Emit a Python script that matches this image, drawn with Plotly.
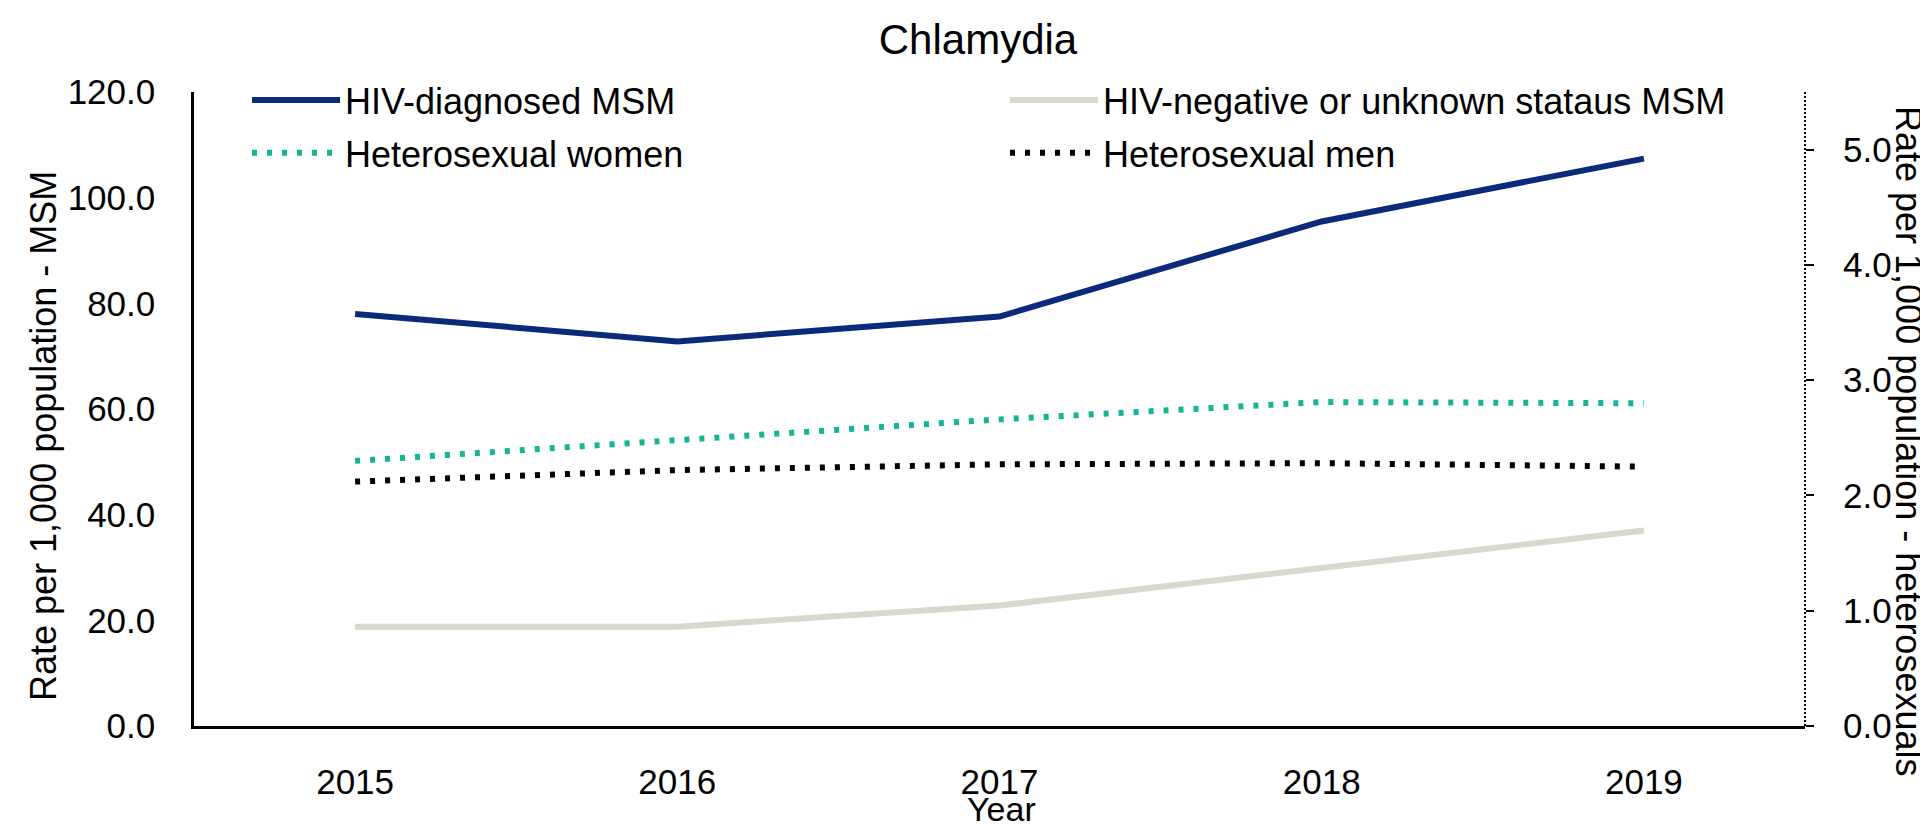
import plotly.graph_objects as go

years = [2015, 2016, 2017, 2018, 2019]
hiv_diagnosed_msm = [78.0, 72.8, 77.5, 95.5, 107.4]
hiv_negative_msm = [18.8, 18.8, 22.8, 30.0, 37.0]
het_women = [2.30, 2.48, 2.66, 2.81, 2.80]
het_men = [2.12, 2.22, 2.27, 2.28, 2.25]

left_ticks = [0, 20, 40, 60, 80, 100, 120]
right_ticks = [0, 1, 2, 3, 4, 5]

FONT = "Liberation Sans, Arial, sans-serif"
FS = 35      # tick labels
FL = 36      # legend / axis titles
W, H = 1928, 827
ML, MR, MT, MB = 186, 131, 84, 109
PW = W - ML - MR
PH = H - MT - MB


def px_x(x):
    return (x - ML) / PW


def px_y(y):
    return (H - MB - y) / PH


fig = go.Figure()
fig.add_trace(go.Scatter(x=years, y=hiv_diagnosed_msm, name="HIV-diagnosed MSM",
                         mode="lines", line=dict(color="#0B2B7A", width=6),
                         legend="legend", legendgroup="a"))
fig.add_trace(go.Scatter(x=years, y=het_women, name="Heterosexual women",
                         mode="lines", line=dict(color="#17B496", width=6, dash="5px,10px"),
                         yaxis="y2", legend="legend", legendgroup="b"))
fig.add_trace(go.Scatter(x=years, y=hiv_negative_msm, name="HIV-negative or unknown stataus MSM",
                         mode="lines", line=dict(color="#D9D8CD", width=6),
                         legend="legend2", legendgroup="c"))
fig.add_trace(go.Scatter(x=years, y=het_men, name="Heterosexual men",
                         mode="lines", line=dict(color="#000000", width=6, dash="5px,10px"),
                         yaxis="y2", legend="legend2", legendgroup="d"))

# dotted right axis line
fig.add_shape(type="line", xref="paper", yref="paper", x0=1, x1=1, y0=0, y1=1,
              line=dict(color="black", width=2, dash="2px,2px"))

# axis titles
fig.add_annotation(text="Rate per 1,000 population - MSM", textangle=-90,
                   xref="paper", yref="paper", x=px_x(35), y=px_y(428),
                   xanchor="center", yanchor="middle", showarrow=False,
                   font=dict(family=FONT, size=FL, color="black"))
fig.add_annotation(text="Rate per 1,000 population - heterosexuals", textangle=90,
                   xref="paper", yref="paper", x=px_x(1901), y=px_y(433),
                   xanchor="center", yanchor="middle", showarrow=False,
                   font=dict(family=FONT, size=FL, color="black"))
fig.add_annotation(text="Year", xref="paper", yref="paper", x=px_x(993), y=px_y(801),
                   xanchor="center", yanchor="middle", showarrow=False,
                   font=dict(family=FONT, size=34, color="black"))

leg_common = dict(font=dict(family=FONT, size=FL, color="black"), bgcolor="rgba(0,0,0,0)",
                  orientation="v", itemwidth=88, tracegroupgap=3,
                  xref="container", yref="container", xanchor="left", yanchor="top")

fig.update_layout(
    width=W, height=H,
    margin=dict(l=ML, r=MR, t=MT, b=MB, autoexpand=False),
    paper_bgcolor="white", plot_bgcolor="white",
    font=dict(family=FONT, size=FS, color="black"),
    title=dict(text="Chlamydia", x=970/W, xanchor="center", xref="container",
               y=1 - 31.5/H, yanchor="middle", yref="container",
               font=dict(family=FONT, size=42, color="black")),
    xaxis=dict(tickmode="array", tickvals=years, ticktext=[str(y) for y in years],
               range=[2014.5, 2019.5], showgrid=False, zeroline=False,
               showline=True, linecolor="black", linewidth=3, ticks="",
               ticklabelstandoff=23, automargin=False),
    yaxis=dict(range=[0, 120], tickvals=left_ticks, tickformat=".1f",
               showgrid=False, zeroline=False, showline=True, linecolor="black",
               linewidth=2.5, ticks="", ticklabelstandoff=29, automargin=False),
    yaxis2=dict(range=[0, 5.5], tickvals=right_ticks, tickformat=".1f",
                overlaying="y", side="right", showgrid=False, zeroline=False,
                showline=False, ticks="outside", ticklen=8, tickwidth=2,
                tickcolor="black", ticklabelstandoff=22, automargin=False),
    legend=dict(x=239/W, y=1 - 62/H, **leg_common),
    legend2=dict(x=997/W, y=1 - 62/H, **leg_common),
    showlegend=True,
)

fig.write_html("out.html")
